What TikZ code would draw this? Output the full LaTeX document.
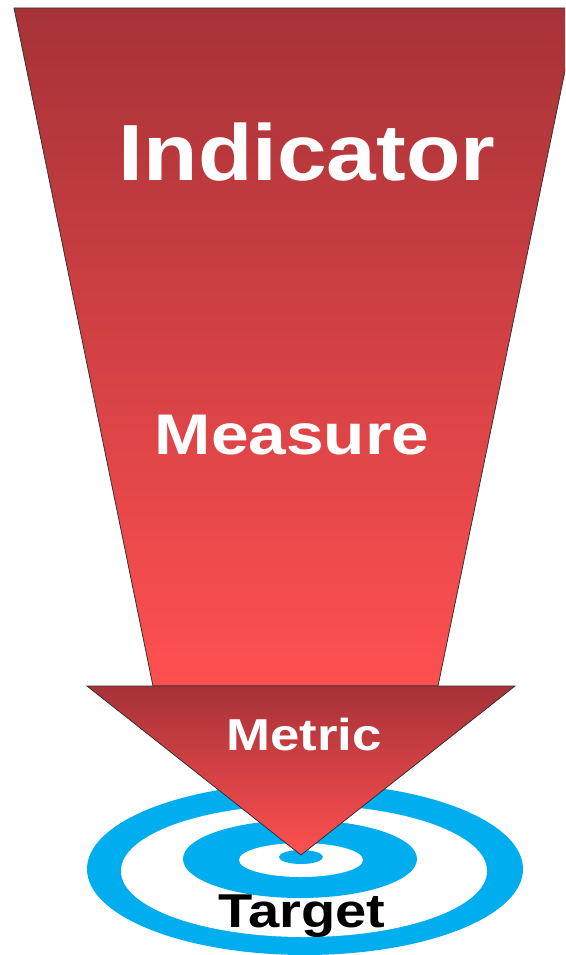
\documentclass[tikz,border=0pt]{standalone}
\usepackage{fontspec}
\setmainfont{Liberation Sans}
\usepackage{tikz}
\usetikzlibrary{positioning}
\definecolor{darkred}{HTML}{A63237}
\definecolor{lightred}{HTML}{FF5051}
\definecolor{targetblue}{HTML}{00AEEF}

\begin{document}
\begin{tikzpicture}[x=1pt,y=-1pt,
    funnel/.style={draw=black!80,line width=0.8pt,top color=darkred,bottom color=lightred},
    ring/.style={fill=targetblue},
    hole/.style={fill=white},
    word/.style={anchor=base,text=white,font=\bfseries}]
    \useasboundingbox (0,0) rectangle (565,955);
    \clip (0,0) rectangle (565,955);
    % Target rings
    \fill[ring] (305,869) ellipse [x radius=218,y radius=86];
    \fill[hole] (304,871) ellipse [x radius=183,y radius=66];
    \fill[ring] (300,859) ellipse [x radius=117,y radius=39];
    \fill[hole] (301,860) ellipse [x radius=62,y radius=17];
    \fill[ring] (301,857) ellipse [x radius=22,y radius=7];
    % Funnel and arrow head
    \path[funnel] (14,8) -- (578,8) -- (438,686) -- (153,686) -- cycle;
    \path[funnel] (87,686) -- (515,686) -- (301,855) -- cycle;
    % Labels
    \node[word] (ind) at (307,180) {\fontsize{79.6}{80}\selectfont\scalebox{1.12}[1]{Indicator}};
    \node[word] (meas) at (292,454) {\fontsize{57.3}{58}\selectfont\scalebox{1.18}[1]{Measure}};
    \node[word] (met) at (304,750) {\fontsize{44.7}{45}\selectfont\scalebox{1.18}[1]{Metric}};
    \node[word,text=black] (tgt) at (302,927) {\fontsize{47.5}{48}\selectfont\scalebox{1.18}[1]{Target}};
\end{tikzpicture}
\end{document}
